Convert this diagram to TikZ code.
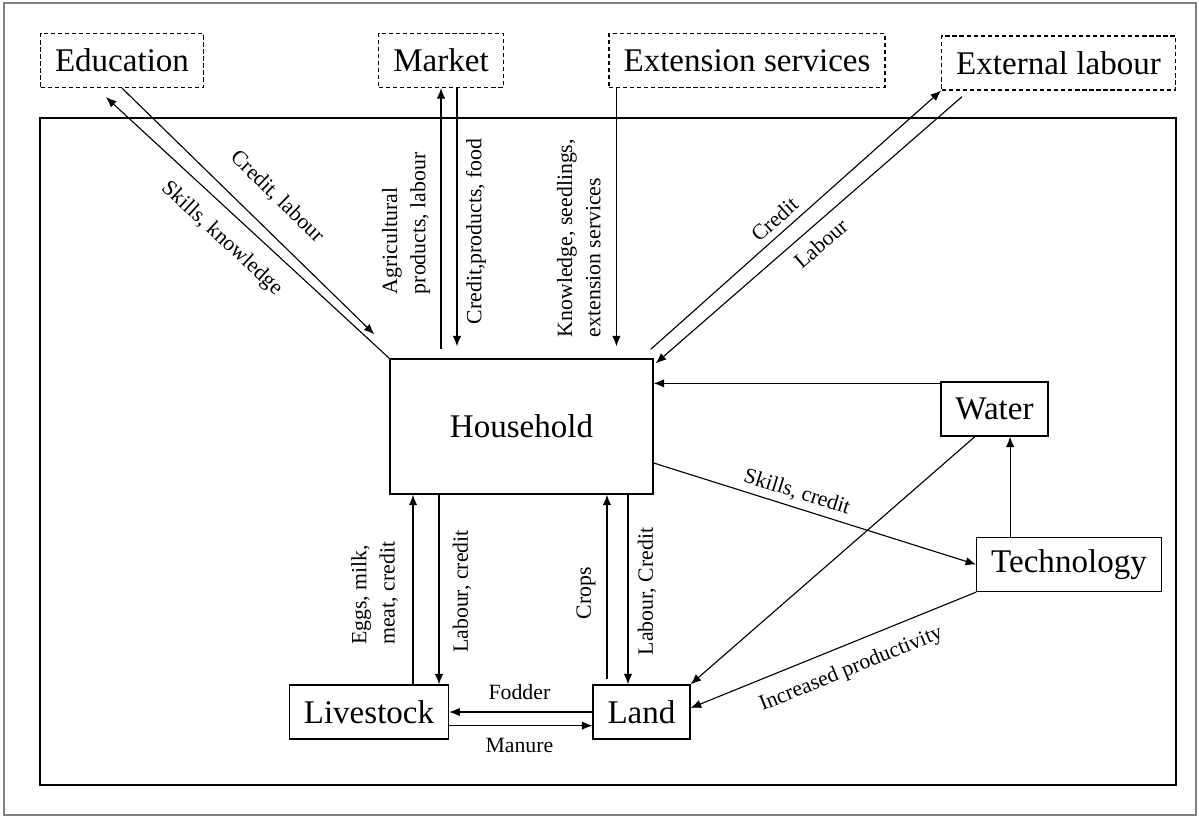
\documentclass[tikz,border=0pt]{standalone}
\usepackage{fontspec}
\setmainfont{Liberation Serif}
\usetikzlibrary{positioning,arrows.meta,calc}
\newcommand{\boxfont}{\fontsize{23.5}{26}\selectfont}
\newcommand{\lblfont}{\fontsize{15.5}{20}\selectfont}
\tikzset{
    block/.style = {
        draw,
        shape=rectangle,
        minimum height=1.35cm,
        inner xsep=10.3pt,
        line width=0.9pt,
        font=\boxfont
    },
    extern/.style = {
        block,
        dash pattern=on 3pt off 2pt
    },
    lbl/.style = {
        font=\lblfont,
        inner sep=0pt
    },
    >={Latex[length=7.5pt,width=6pt]},
}
\begin{document}
\begin{tikzpicture}[x=0.025cm, y=-0.025cm, line width=0.8pt]
            \useasboundingbox (0,0) rectangle (1199,817);
            \draw[gray, line width=0.9pt] (4,3) rectangle (1196,815);
            \draw (40,118) rectangle (1176,785);

            \node[extern] (education) at (122,60.5) {Education};
            \node[extern] (market) at (441,60.5) {Market};
            \node[extern] (extension) at (747,60.5) {Extension services};
            \node[extern] (external) at (1058.5,63) {External labour};
            \node[block, minimum width=6.575cm, minimum height=3.375cm] (household) at (521.5,426.5) {Household};
            \node[block] (water) at (994.5,409) {Water};
            \node[block] (technology) at (1069,564.5) {Technology};
            \node[block] (livestock) at (369,712) {Livestock};
            \node[block] (land) at (641.5,712) {Land};

            % outside the farm
            \path[draw, ->] (education.south) -- node[lbl, sloped, pos=0.53, yshift=0.76cm] {Credit, labour} ([shift={(-15,-24)}]household.north west);
            \path[draw, <-] ([shift={(-16,9)}]education.south) -- node[lbl, sloped, pos=0.47, yshift=-0.645cm] {Skills, knowledge} (household.north west);
            \path[draw, ->, shorten <=7pt] (market.south |- household.north) -- node[lbl, sloped, pos=0.5, yshift=0.875cm, align=left] {Agricultural\\products, labour} (market.south);
            \path[draw, <-, shorten <=8.5pt] ([xshift=0.4cm]market.south |- household.north) -- node[lbl, sloped, pos=0.47, yshift=-0.475cm] {Credit,products, food} ([xshift=0.4cm]market.south);
            \path[draw, <-, shorten <=8.5pt] ([xshift=0.2cm]extension.south west |- household.north) -- node[lbl, sloped, pos=0.445, yshift=0.94cm, align=left] {Knowledge, seedlings,\\extension services} ([xshift=0.2cm]extension.south west);
            \path[draw, ->] ([shift={(-3,-9)}]household.north east) -- node[lbl, sloped, pos=0.46, yshift=0.37cm] {Credit} (external.south west);
            \path[draw, <-] ([shift={(2,5)}]household.north east) -- node[lbl, sloped, pos=0.5, yshift=-0.45cm] {Labour} ([shift={(21,6)}]external.south west);

            % water and technology
            \path[draw, ->] ([yshift=-0.05cm]water.north west) -- ([yshift=-0.05cm]water.north west -| household.east);
            \path[draw, ->] ([xshift=0.39cm]water.south |- technology.north) -- ([xshift=0.39cm]water.south);
            \path[draw, ->] ([yshift=-0.9125cm]household.east) -- node[lbl, sloped, pos=0.43, yshift=0.375cm] {Skills, credit} (technology.west);
            \path[draw, ->] ([xshift=-0.49cm]water.south) -- (land.north east);
            \path[draw, <-] ([yshift=0.1cm]land.east) -- node[lbl, sloped, pos=0.53, yshift=-0.615cm] {Increased productivity} (technology.south west);

            % livestock and land
            \path[draw, ->] ([xshift=1.1cm]livestock.north) -- node[lbl, sloped, pos=0.48, yshift=0.96cm, align=left] {Eggs, milk,\\meat, credit} ([xshift=1.1cm]livestock.north |- household.south);
            \path[draw, <-] ([xshift=1.75cm]livestock.north) -- node[lbl, sloped, pos=0.49, yshift=-0.575cm] {Labour, credit} ([xshift=1.75cm]livestock.north |- household.south);
            \path[draw, ->, shorten <=4pt] ([xshift=-0.8625cm]land.north) -- node[lbl, sloped, pos=0.48, yshift=0.525cm] {Crops} ([xshift=-0.8625cm]land.north |- household.south);
            \path[draw, <-] ([xshift=-0.3375cm]land.north) -- node[lbl, sloped, pos=0.49, yshift=-0.475cm] {Labour, Credit} ([xshift=-0.3375cm]land.north |- household.south);
            \path[draw, ->] (land.west) -- node[lbl, pos=0.51, yshift=0.5cm] {Fodder} (livestock.east);
            \path[draw, ->] ([yshift=-0.34cm]livestock.east) -- node[lbl, pos=0.49, yshift=-0.5cm] {Manure} ([yshift=-0.34cm]livestock.east -| land.west);
        \end{tikzpicture}
\end{document}
